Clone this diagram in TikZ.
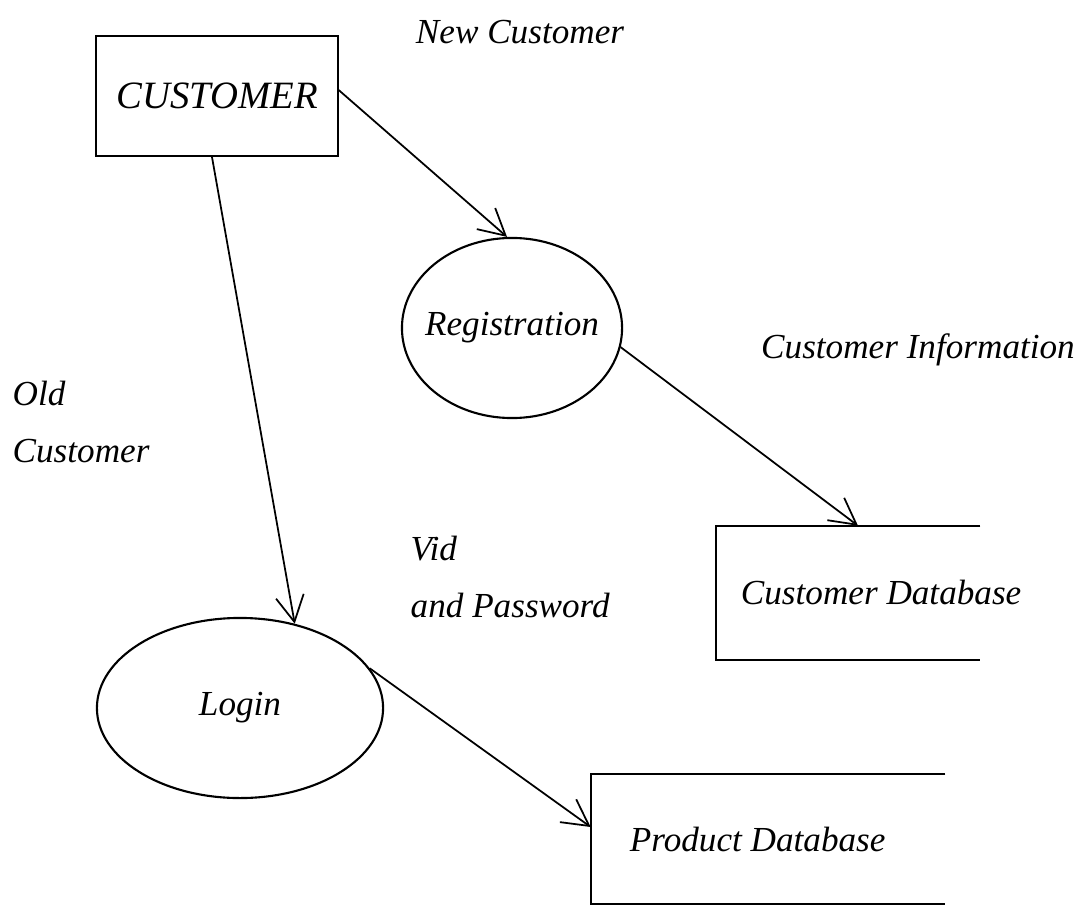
\documentclass[tikz,border=0pt]{standalone}
\usepackage{fontspec}
\setmainfont{Liberation Serif}
\usepackage{tikz}
\usetikzlibrary{arrows.meta,positioning,shapes.geometric}
\tikzset{
    %Define standard arrow tip
    >={Straight Barb[length=2.6mm,width=2.8mm]},
    %Define style for entity boxes
    entitybox/.style={
           rectangle,
           draw=black, line width=0.6pt,
           minimum width=2.41cm,
           minimum height=1.2cm,
           font=\itshape\fontsize{11}{13}\selectfont,
           text centered},
    %Define style for processes
    procnode/.style={
           ellipse,
           draw=black, line width=0.6pt,
           inner sep=0pt,
           font=\itshape\fontsize{10}{12}\selectfont,
           text centered},
    %Define style for data stores (drawn open on the right)
    storenode/.style={
           rectangle,
           inner sep=0pt,
           font=\itshape\fontsize{10}{12}\selectfont},
    % Define style for flow labels
    flowlabel/.style={
           font=\itshape\fontsize{10}{16}\selectfont,
           align=left, inner sep=0pt},
    % Define arrow style
    pil/.style={
           ->,
           line width=0.5pt}
}
\begin{document}
\begin{tikzpicture}[x=0.01cm,y=-0.01cm]
\useasboundingbox (0,0) rectangle (1077,907);
 %nodes
\node[entitybox] (cust) at (217,96) {CUSTOMER};
\node[procnode, minimum width=2.2cm, minimum height=1.8cm] (reg) at (512,328) {\makebox[0pt]{Registration}};
\node[procnode, minimum width=2.86cm, minimum height=1.8cm] (login) at (240,708) {\makebox[0pt]{Login}};
\node[storenode, minimum width=2.63cm, minimum height=1.33cm] (cdb) at (848,593) {\makebox[0pt][l]{\hspace*{-1.07cm}Customer Database}};
\node[storenode, minimum width=3.53cm, minimum height=1.28cm] (pdb) at (768,839) {\makebox[0pt][l]{\hspace*{-1.38cm}Product Database}};

 %stores
\draw[line width=0.6pt] (cdb.north east) -- (cdb.north west) -- (cdb.south west) -- (cdb.south east);
\draw[line width=0.6pt] (pdb.north east) -- (pdb.north west) -- (pdb.south west) -- (pdb.south east);

 %labels
\node[flowlabel] (newlbl) at (520,32) {New Customer};
\node[flowlabel] (infolbl) at (918,350) {Customer Information};
\node[flowlabel, anchor=west] (oldlbl) at (12,422) {Old\\Customer};
\node[flowlabel, anchor=west] (vidlbl) at (410,577) {Vid\\and Password};

 %flows
\draw[pil] ([yshift=0.06cm]cust.east) -- ([xshift=-0.05cm]reg.north);
\draw[pil] (reg.-10) -- ([xshift=0.1cm]cdb.north);
\draw[pil] ([xshift=-0.05cm]cust.south) -- (login.57);
\draw[pil] (login.17) -- ([yshift=0.12cm]pdb.west);

\end{tikzpicture}
\end{document}
